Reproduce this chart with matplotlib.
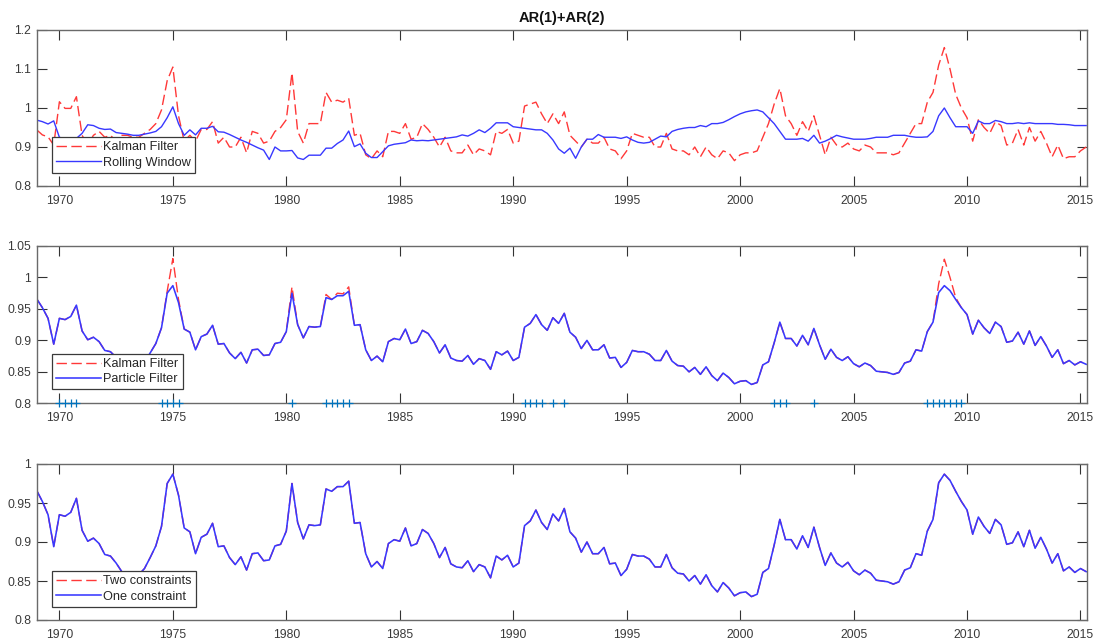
"""AR(1)+AR(2): Kalman vs rolling window / particle filter / constraint comparisons."""
import numpy as np
import matplotlib
matplotlib.use("Agg")
import matplotlib.pyplot as plt
from matplotlib.ticker import FuncFormatter

plt.rcParams["font.family"] = ["Liberation Sans", "DejaVu Sans"]

# --- data (quarterly, first quarter 1969Q1) -----------------------------------
START_YEAR = 1969.0

rolling_window = [
    0.969, 0.965, 0.959, 0.967, 0.925, 0.92, 0.918, 0.922, 0.935, 0.957, 0.955, 0.948, 0.945, 0.946, 0.937, 0.935,
    0.933, 0.93, 0.93, 0.933, 0.936, 0.94, 0.952, 0.975,
    1.003, 0.96, 0.93, 0.944, 0.931, 0.948, 0.948, 0.953, 0.939, 0.938, 0.932, 0.925, 0.918, 0.912, 0.905, 0.898, 0.892, 0.868, 0.9, 0.89,
    0.89, 0.891, 0.872, 0.868, 0.879, 0.879, 0.879, 0.897, 0.897, 0.909, 0.918, 0.941, 0.901, 0.908, 0.884, 0.873, 0.873, 0.888, 0.903, 0.907,
    0.909, 0.911, 0.918, 0.916, 0.917, 0.916, 0.918, 0.92, 0.922, 0.924, 0.926, 0.931, 0.928, 0.935, 0.944, 0.937, 0.948, 0.962, 0.962, 0.962,
    0.952, 0.95, 0.948, 0.946, 0.944, 0.944, 0.935, 0.918, 0.895, 0.884, 0.897, 0.871, 0.9, 0.92, 0.92, 0.932, 0.925, 0.925, 0.925, 0.922,
    0.926, 0.918, 0.912, 0.91, 0.912, 0.92, 0.928, 0.926, 0.94, 0.945, 0.948, 0.95, 0.95, 0.955, 0.952, 0.96, 0.96, 0.963, 0.97, 0.978,
    0.985, 0.99, 0.993, 0.995, 0.99, 0.975, 0.96, 0.94, 0.92, 0.92, 0.92, 0.922, 0.915, 0.93, 0.91, 0.915, 0.922, 0.93, 0.926, 0.923,
    0.92, 0.92, 0.92, 0.922, 0.925, 0.925, 0.925, 0.93, 0.93, 0.93, 0.927, 0.925, 0.925, 0.926, 0.94, 0.98, 1.0, 0.975, 0.952, 0.952,
    0.952, 0.935, 0.967, 0.96, 0.96, 0.968, 0.965, 0.96, 0.96, 0.962, 0.96, 0.962, 0.96, 0.96, 0.96, 0.96, 0.958, 0.958, 0.957, 0.955, 0.955, 0.955,
]

kalman_top = [
    0.944, 0.931, 0.926, 0.905, 1.016, 0.999, 0.999, 1.029, 0.93, 0.905, 0.93, 0.94, 0.925, 0.93, 0.915, 0.93,
    0.93, 0.925, 0.925, 0.935, 0.945, 0.96, 0.995, 1.07,
    1.105, 0.98, 0.915, 0.93, 0.915, 0.945, 0.945, 0.965, 0.91, 0.925, 0.9, 0.9, 0.925, 0.885, 0.94, 0.935, 0.91, 0.915, 0.94, 0.95,
    0.97, 1.09, 0.94, 0.91, 0.96, 0.96, 0.96, 1.04, 1.015, 1.02, 1.015, 1.025, 0.93, 0.935, 0.88, 0.87, 0.89, 0.875, 0.94, 0.94,
    0.935, 0.96, 0.92, 0.925, 0.96, 0.945, 0.925, 0.9, 0.925, 0.89, 0.885, 0.885, 0.905, 0.88, 0.895, 0.89, 0.88, 0.94, 0.935, 0.945,
    0.91, 0.915, 1.005, 1.01, 1.015, 0.985, 0.96, 0.985, 0.96, 0.99, 0.93, 0.915, 0.9, 0.92, 0.91, 0.91, 0.925, 0.895, 0.89, 0.87,
    0.89, 0.935, 0.93, 0.925, 0.925, 0.9, 0.9, 0.935, 0.895, 0.89, 0.89, 0.88, 0.9, 0.875, 0.9, 0.88, 0.87, 0.89, 0.885, 0.865,
    0.88, 0.885, 0.885, 0.89, 0.925, 0.96, 1.01, 1.05, 0.98, 0.96, 0.93, 0.965, 0.94, 0.98, 0.93, 0.88, 0.925, 0.905, 0.9, 0.91,
    0.895, 0.89, 0.905, 0.9, 0.885, 0.885, 0.885, 0.88, 0.885, 0.91, 0.935, 0.96, 0.96, 1.015, 1.04, 1.11, 1.155, 1.1, 1.035, 1.0,
    0.975, 0.915, 0.97, 0.95, 0.935, 0.965, 0.955, 0.905, 0.91, 0.945, 0.905, 0.95, 0.915, 0.94, 0.91, 0.875, 0.905, 0.87, 0.875, 0.875, 0.89, 0.9,
]

particle_filter = [
    0.966, 0.952, 0.935, 0.894, 0.935, 0.933, 0.938, 0.956, 0.915, 0.901, 0.905, 0.898, 0.884, 0.882, 0.873, 0.862,
    0.857, 0.855, 0.858, 0.866, 0.88, 0.895, 0.92, 0.975,
    0.987, 0.96, 0.918, 0.913, 0.885, 0.906, 0.91, 0.924, 0.894, 0.895, 0.88, 0.871, 0.881, 0.864, 0.885, 0.886, 0.876, 0.877, 0.895, 0.897,
    0.914, 0.975, 0.925, 0.904, 0.922, 0.921, 0.922, 0.968, 0.965, 0.971, 0.971, 0.978, 0.924, 0.925, 0.885, 0.868, 0.875, 0.866, 0.898, 0.903,
    0.901, 0.918, 0.895, 0.898, 0.916, 0.911, 0.898, 0.88, 0.893, 0.872, 0.868, 0.867, 0.876, 0.862, 0.871, 0.868, 0.854, 0.882, 0.877, 0.883,
    0.868, 0.873, 0.921, 0.927, 0.941, 0.925, 0.916, 0.936, 0.927, 0.943, 0.913, 0.905, 0.887, 0.9, 0.885, 0.885, 0.893, 0.872, 0.873, 0.857,
    0.865, 0.884, 0.882, 0.882, 0.878, 0.868, 0.868, 0.884, 0.867, 0.86, 0.859, 0.85, 0.857, 0.846, 0.858, 0.844, 0.836, 0.848, 0.841, 0.831,
    0.835, 0.836, 0.83, 0.833, 0.861, 0.866, 0.896, 0.929, 0.903, 0.903, 0.891, 0.908, 0.893, 0.919, 0.893, 0.87, 0.886, 0.873, 0.868, 0.874,
    0.863, 0.858, 0.864, 0.86, 0.851, 0.85, 0.849, 0.846, 0.849, 0.864, 0.867, 0.885, 0.883, 0.914, 0.929, 0.976, 0.987, 0.979, 0.965, 0.952,
    0.941, 0.91, 0.932, 0.92, 0.911, 0.929, 0.922, 0.897, 0.899, 0.913, 0.894, 0.915, 0.892, 0.906, 0.891, 0.873, 0.885, 0.863, 0.868, 0.861, 0.866, 0.862,
]

# Kalman filter in the middle panel coincides with the particle filter except at these quarters
kalman_mid_dates = [1974.75, 1975.0, 1975.25, 1980.25, 1981.75, 1982.25, 1982.5, 1982.75,
                    2008.75, 2009.0, 2009.25, 2009.5]
kalman_mid_values = [0.978, 1.03, 0.965, 0.985, 0.973, 0.975, 0.974, 0.985,
                     0.99, 1.029, 1.0, 0.968]

# quarters marked with '+' on the middle panel
marked_dates = [1970.0, 1970.25, 1970.5, 1970.75, 1974.5, 1974.75, 1975.0, 1975.25,
                1980.25, 1981.75, 1982.0, 1982.25, 1982.5, 1982.75,
                1990.5, 1990.75, 1991.0, 1991.25, 1991.75, 1992.25,
                2001.5, 2001.75, 2002.0, 2003.25,
                2008.25, 2008.5, 2008.75, 2009.0, 2009.25, 2009.5, 2009.75]

# bottom panel: both constraint variants coincide with the particle filter path
one_constraint = particle_filter
two_constraints = particle_filter

# --- figure -------------------------------------------------------------------
t = START_YEAR + np.arange(len(particle_filter)) / 4.0
kalman_mid = np.array(particle_filter, dtype=float)
for d, v in zip(kalman_mid_dates, kalman_mid_values):
    kalman_mid[int(round((d - START_YEAR) * 4))] = v

RED, BLUE, MARK = "#ff3838", "#3838ff", "#0072bd"
DASH = (0, (7.5, 3.2))
AXC = "#6a6a6a"
LW = 1.0

fig = plt.figure(figsize=(10.99, 6.42), dpi=100)
W = 1099.0
H = 642.0
left, width = 36.7 / W, (1087.3 - 36.7) / W
ax1 = fig.add_axes([left, 1 - 186 / H, width, 156 / H])
ax2 = fig.add_axes([left, 1 - 403.3 / H, width, 157.3 / H])
ax3 = fig.add_axes([left, 1 - 620 / H, width, 156 / H])


def style(ax, ylim, yticks):
    ax.set_xlim(1969.0, 2015.3)
    ax.set_ylim(*ylim)
    ax.set_xticks(np.arange(1970, 2016, 5))
    ax.set_yticks(yticks)
    ax.yaxis.set_major_formatter(FuncFormatter(lambda v, _: f"{v:g}"))
    ax.tick_params(direction="in", length=7.2, width=0.8, color="#333333",
                   top=True, right=True, labelsize=8.7, labelcolor="#3a3a3a")
    ax.tick_params(axis="x", pad=6.5)
    ax.tick_params(axis="y", pad=4)
    for s in ax.spines.values():
        s.set_color(AXC)
        s.set_linewidth(1.0)


def legend(ax, yoff):
    leg = ax.legend(loc="lower left", bbox_to_anchor=(0.0143, yoff), borderaxespad=0,
                    fontsize=9.2, handlelength=3.5, handletextpad=0.23,
                    labelspacing=0.25, borderpad=0.32, fancybox=False,
                    framealpha=1, edgecolor="#3a3a3a")
    leg.get_frame().set_linewidth(0.9)
    for txt in leg.get_texts():
        txt.set_color("#262626")


ax1.plot(t, kalman_top, color=RED, ls=DASH, lw=LW, label="Kalman Filter")
ax1.plot(t, rolling_window, color=BLUE, lw=LW, label="Rolling Window")
style(ax1, (0.8, 1.2), [0.8, 0.9, 1.0, 1.1, 1.2])
legend(ax1, 0.085)
ax1.set_title("AR(1)+AR(2)", fontsize=10.5, fontweight="bold", pad=6, color="#111111")

ax2.plot(t, kalman_mid, color=RED, ls=DASH, lw=LW, label="Kalman Filter")
ax2.plot(t, particle_filter, color=BLUE, lw=1.15, label="Particle Filter")
ax2.plot(marked_dates, [0.8] * len(marked_dates), ls="none", marker="+", ms=6,
         mew=0.9, color=MARK, clip_on=False, zorder=5)
style(ax2, (0.8, 1.05), [0.8, 0.85, 0.9, 0.95, 1.0, 1.05])
legend(ax2, 0.089)

ax3.plot(t, two_constraints, color=RED, ls=DASH, lw=LW, label="Two constraints")
ax3.plot(t, one_constraint, color=BLUE, lw=1.15, label="One constraint")
style(ax3, (0.8, 1.0), [0.8, 0.85, 0.9, 0.95, 1.0])
legend(ax3, 0.085)

fig.savefig("out.png", dpi=100)
